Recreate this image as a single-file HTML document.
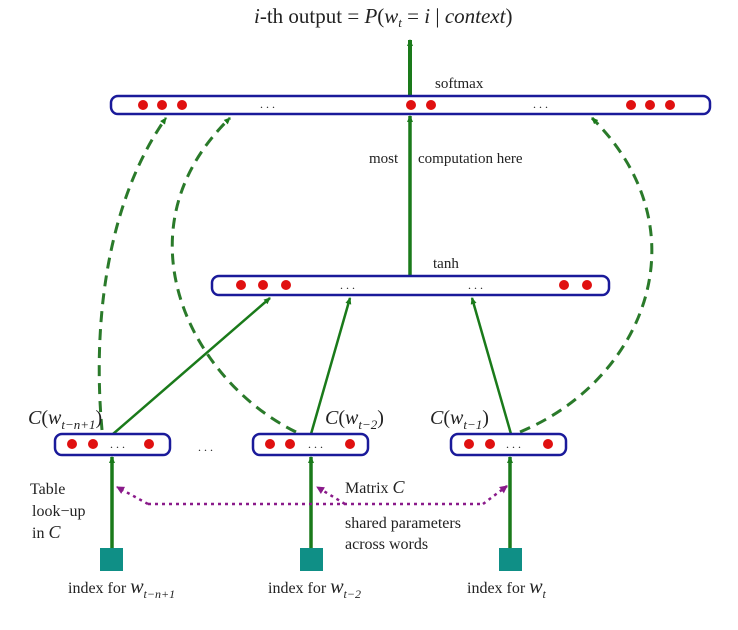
<!DOCTYPE html>
<html><head><meta charset="utf-8"><style>
html,body{margin:0;padding:0;background:#fff;}
svg{display:block;}
text{font-family:"Liberation Serif",serif;fill:#222;}
</style></head><body>
<svg width="738" height="630" viewBox="0 0 738 630" xmlns="http://www.w3.org/2000/svg">
<defs>
<marker id="ag" markerWidth="8" markerHeight="8" refX="6" refY="4" orient="auto" markerUnits="userSpaceOnUse"><path d="M0,1 L7,4 L0,7 z" fill="#1a7a1a"/></marker>
<marker id="ap" markerWidth="10" markerHeight="10" refX="7" refY="5" orient="auto" markerUnits="userSpaceOnUse"><path d="M0,1 L8,5 L0,9 z" fill="#8a1a8a"/></marker>
</defs>
<text x="254" y="23" font-size="21"><tspan font-style="italic">i</tspan>-th output = <tspan font-style="italic">P</tspan>(<tspan font-style="italic">w</tspan><tspan font-style="italic" font-size="13" dy="4">t</tspan><tspan dy="-4">  =  </tspan><tspan font-style="italic">i</tspan> | <tspan font-style="italic">context</tspan>)</text>
<line x1="410" y1="95" x2="410" y2="40" stroke="#1a7a1a" stroke-width="4" marker-end="url(#ag)"/>
<text x="435" y="88" font-size="15">softmax</text>
<rect x="111" y="96" width="599" height="18" rx="7" fill="#fff" stroke="#1a1a9a" stroke-width="2.5"/>
<g fill="#e01010">
<circle cx="143" cy="105" r="5"/><circle cx="162" cy="105" r="5"/><circle cx="182" cy="105" r="5"/>
<circle cx="411" cy="105" r="5"/><circle cx="431" cy="105" r="5"/>
<circle cx="631" cy="105" r="5"/><circle cx="650" cy="105" r="5"/><circle cx="670" cy="105" r="5"/>
</g>
<text x="260" y="108" font-size="12">. . .</text><text x="533" y="108" font-size="12">. . .</text>
<line x1="410" y1="275" x2="410" y2="116" stroke="#1a7a1a" stroke-width="3.5" marker-end="url(#ag)"/>
<text x="369" y="163" font-size="15">most</text>
<text x="418" y="163" font-size="15">computation here</text>
<text x="433" y="268" font-size="15">tanh</text>
<rect x="212" y="276" width="397" height="19" rx="7" fill="#fff" stroke="#1a1a9a" stroke-width="2.5"/>
<g fill="#e01010">
<circle cx="241" cy="285" r="5"/><circle cx="263" cy="285" r="5"/><circle cx="286" cy="285" r="5"/>
<circle cx="564" cy="285" r="5"/><circle cx="587" cy="285" r="5"/>
</g>
<text x="340" y="289" font-size="12">. . .</text><text x="468" y="289" font-size="12">. . .</text>
<g fill="none" stroke="#2a7a2a" stroke-width="3" stroke-dasharray="11,7">
<path d="M102,430 C92,320 108,200 166,118" marker-end="url(#ag)"/>
<path d="M296,432 C190,380 115,230 230,118" marker-end="url(#ag)"/>
<path d="M520,432 C645,380 705,230 592,118" marker-end="url(#ag)"/>
</g>
<g stroke="#1a7a1a" stroke-width="2.5">
<line x1="113" y1="434" x2="270" y2="298" marker-end="url(#ag)"/>
<line x1="311" y1="434" x2="350" y2="298" marker-end="url(#ag)"/>
<line x1="511" y1="434" x2="472" y2="298" marker-end="url(#ag)"/>
</g>
<text x="28" y="424" font-size="20" font-style="italic">C<tspan font-style="normal">(</tspan>w<tspan font-size="13" dy="5">t−n+1</tspan><tspan font-style="normal" dy="-5">)</tspan></text>
<text x="325" y="424" font-size="20" font-style="italic">C<tspan font-style="normal">(</tspan>w<tspan font-size="13" dy="5">t−2</tspan><tspan font-style="normal" dy="-5">)</tspan></text>
<text x="430" y="424" font-size="20" font-style="italic">C<tspan font-style="normal">(</tspan>w<tspan font-size="13" dy="5">t−1</tspan><tspan font-style="normal" dy="-5">)</tspan></text>
<g fill="#fff" stroke="#1a1a9a" stroke-width="2.5">
<rect x="55" y="434" width="115" height="21" rx="7"/>
<rect x="253" y="434" width="115" height="21" rx="7"/>
<rect x="451" y="434" width="115" height="21" rx="7"/>
</g>
<g fill="#e01010">
<circle cx="72" cy="444" r="5"/><circle cx="93" cy="444" r="5"/><circle cx="149" cy="444" r="5"/>
<circle cx="270" cy="444" r="5"/><circle cx="290" cy="444" r="5"/><circle cx="350" cy="444" r="5"/>
<circle cx="469" cy="444" r="5"/><circle cx="490" cy="444" r="5"/><circle cx="548" cy="444" r="5"/>
</g>
<text x="110" y="448" font-size="12">. . .</text><text x="308" y="448" font-size="12">. . .</text><text x="506" y="448" font-size="12">. . .</text>
<text x="198" y="451" font-size="12">. . .</text>
<g stroke="#1a7a1a" stroke-width="3.5">
<line x1="112" y1="549" x2="112" y2="457" marker-end="url(#ag)"/>
<line x1="311" y1="549" x2="311" y2="457" marker-end="url(#ag)"/>
<line x1="510" y1="549" x2="510" y2="457" marker-end="url(#ag)"/>
</g>
<g fill="#0f8f86">
<rect x="100" y="548" width="23" height="23"/>
<rect x="300" y="548" width="23" height="23"/>
<rect x="499" y="548" width="23" height="23"/>
</g>
<g fill="none" stroke="#8a1a8a" stroke-width="2.5" stroke-dasharray="3,4">
<path d="M148,504 L483,504"/>
<path d="M148,504 L117,487" marker-end="url(#ap)"/>
<path d="M345,504 L317,487" marker-end="url(#ap)"/>
<path d="M483,504 L507,486" marker-end="url(#ap)"/>
</g>
<text x="30" y="494" font-size="16">Table</text>
<text x="32" y="516" font-size="16">look−up</text>
<text x="32" y="538" font-size="16">in <tspan font-style="italic" font-size="18">C</tspan></text>
<text x="345" y="493" font-size="16">Matrix <tspan font-style="italic" font-size="18">C</tspan></text>
<text x="345" y="528" font-size="16">shared parameters</text>
<text x="345" y="549" font-size="16">across words</text>
<text x="68" y="593" font-size="16">index for <tspan font-style="italic" font-size="20">w</tspan><tspan font-style="italic" font-size="12" dy="5">t−n+1</tspan></text>
<text x="268" y="593" font-size="16">index for <tspan font-style="italic" font-size="20">w</tspan><tspan font-style="italic" font-size="12" dy="5">t−2</tspan></text>
<text x="467" y="593" font-size="16">index for <tspan font-style="italic" font-size="20">w</tspan><tspan font-style="italic" font-size="12" dy="5">t</tspan></text>
</svg>
</body></html>
